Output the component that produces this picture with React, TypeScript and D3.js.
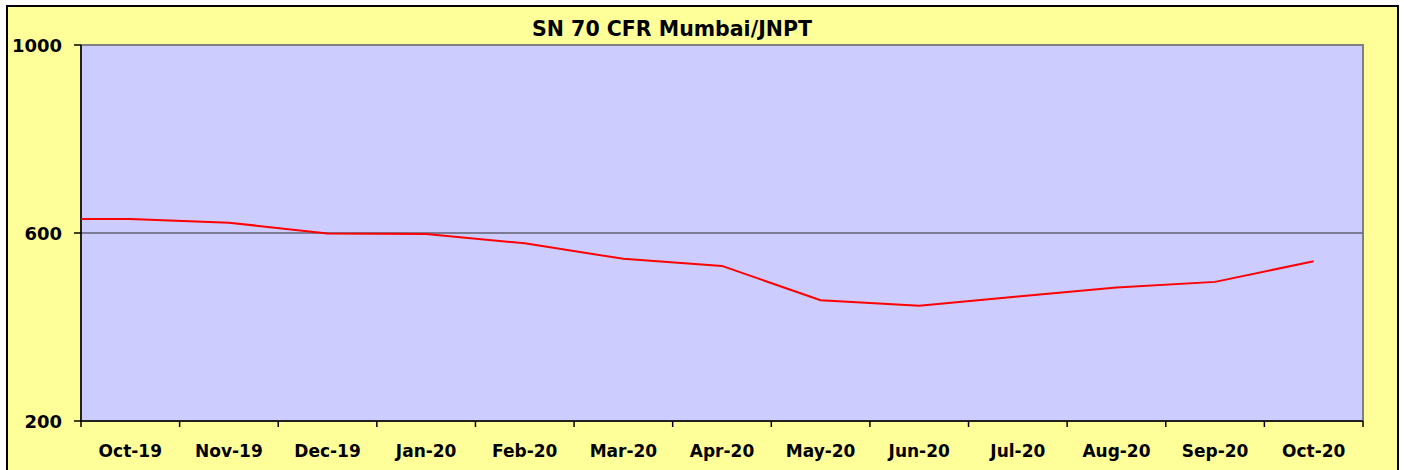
import React from "react";
import * as d3 from "d3";

const title = "SN 70 CFR Mumbai/JNPT";
const months = ["Oct-19","Nov-19","Dec-19","Jan-20","Feb-20","Mar-20","Apr-20","May-20","Jun-20","Jul-20","Aug-20","Sep-20","Oct-20"];
const prices = [630, 622, 599, 598, 578, 545, 530, 457, 445, 465, 484, 496, 540];
const yTicks = [200, 600, 1000];

const W = 1404, H = 470;
const plot = { left: 81, right: 1363, top: 45, bottom: 421 };
const FONT = "'DejaVu Sans', Verdana, sans-serif";

export default function App() {
  const x = d3.scaleBand<string>().domain(months).range([plot.left, plot.right]).padding(0);
  const y = d3.scaleLinear().domain([200, 1000]).range([plot.bottom, plot.top]);
  const cx = (m: string) => (x(m) as number) + x.bandwidth() / 2;
  const pts: [number, number][] = [[plot.left, y(prices[0])], ...months.map((m, i) => [cx(m), y(prices[i])] as [number, number])];
  const line = d3.line()(pts) as string;
  const bounds = [...months.map((m) => x(m) as number), plot.right];

  return (
    <svg width={W} height={H} style={{ position: "absolute", left: 0, top: 0 }} fontFamily={FONT}>
      <rect x={7} y={6} width={1391} height={470} fill="#FFFF99" stroke="#000" strokeWidth={2} />
      <text x={672} y={36} textAnchor="middle" fontSize={20.5} fontWeight="bold" fill="#000">{title}</text>
      <rect x={plot.left} y={plot.top} width={plot.right - plot.left} height={plot.bottom - plot.top} fill="#CCCCFF" stroke="#808080" strokeWidth={2} />
      {yTicks.filter((t) => t !== 200 && t !== 1000).map((t) => (
        <line key={t} x1={plot.left} x2={plot.right} y1={y(t)} y2={y(t)} stroke="#606070" strokeWidth={1.5} />
      ))}
      <line x1={plot.left} x2={plot.left} y1={plot.top} y2={plot.bottom} stroke="#000" strokeWidth={1.5} />
      <line x1={plot.left} x2={plot.right} y1={plot.bottom} y2={plot.bottom} stroke="#000" strokeWidth={1.5} />
      {yTicks.map((t) => (
        <g key={t}>
          <line x1={plot.left - 7} x2={plot.left} y1={y(t)} y2={y(t)} stroke="#000" strokeWidth={1.5} />
          <text x={62} y={y(t) + 6.5} textAnchor="end" fontSize={18} fontWeight="bold" fill="#000">{t}</text>
        </g>
      ))}
      {bounds.map((b, i) => (
        <line key={i} x1={b} x2={b} y1={plot.bottom} y2={plot.bottom + 6} stroke="#000" strokeWidth={1.5} />
      ))}
      {months.map((m) => (
        <text key={m} x={cx(m)} y={457} textAnchor="middle" fontSize={17} fontWeight="bold" fill="#000">{m}</text>
      ))}
      <path d={line} fill="none" stroke="#FF0000" strokeWidth={2} />
    </svg>
  );
}
